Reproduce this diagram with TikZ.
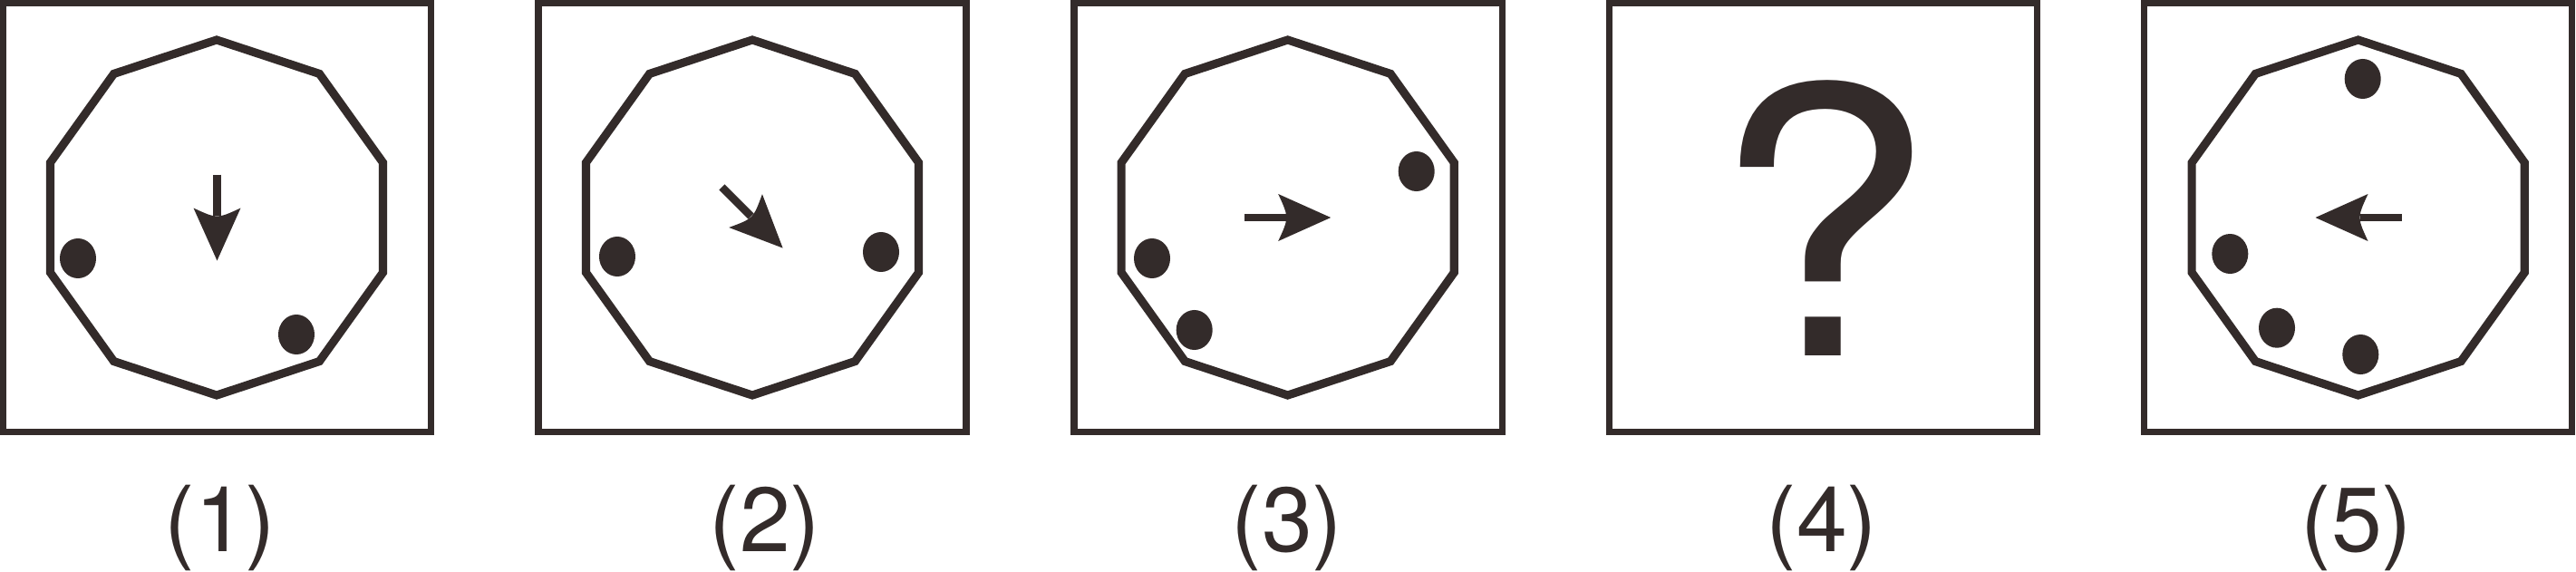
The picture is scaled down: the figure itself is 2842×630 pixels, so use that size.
\documentclass[tikz,border=0pt]{standalone}
\usepackage{fontspec}
\setmainfont{TeX Gyre Heros}
\usepackage{tikz}
\definecolor{PuzzleInk}{HTML}{332B2A}

\tikzset{
  panel/.style={draw=PuzzleInk,line width=2pt},
  ring/.style={draw=PuzzleInk,line width=2.6pt,line join=miter},
  blob/.style={fill=PuzzleInk},
  shaft/.style={draw=PuzzleInk,line width=2.5pt},
  tag/.style={text=PuzzleInk,inner sep=0pt,anchor=base,font=\fontsize{28.6pt}{30pt}\selectfont}
}

\begin{document}
\begin{tikzpicture}[x=0.01cm,y=-0.01cm]
  \useasboundingbox (0,0) rectangle (2842,630);
  % frames and captions
  \foreach \i/\cx/\lx in {1/239.5/243,2/830/844,3/1421/1420,4/2011/2010,5/2601.5/2600}{
    \draw[panel] (\cx-236,3.5) rectangle (\cx+236,476.5);
    \node[tag] (lab\i) at (\lx,608) {(\i)};
  }
  % decagons
  \foreach \cx in {239,830,1420.7,2601.7}
    \draw[ring] plot[samples=10,domain=90:414] ({\cx+193*cos(\x)},{240+196*sin(\x)}) -- cycle;
  % dots
  \foreach \dx/\dy in {86/285,327/369,681/283,972/278,1562.7/189,1271/285,1317.7/364,
                       2606.7/87,2460.3/280,2512/361.7,2604.3/391}
    \fill[blob] (\dx,\dy) ellipse [x radius=2mm,y radius=2.2mm];
  % arrows
  \foreach \cx/\ang in {239.5/-90,830/-45,1420.7/0,2602/180}{
    \begin{scope}[shift={(\cx,240)},rotate=\ang]
      \draw[shaft] (-47.5,0) -- (-2,0);
      \fill[PuzzleInk] (47.5,0) -- (-10.5,26) .. controls (1.5,0) .. (-10.5,-26) -- cycle;
    \end{scope}
  }
  \node[text=PuzzleInk,inner sep=0pt,anchor=base,xscale=1.07,font=\fontsize{116.6pt}{120pt}\selectfont] (qmark) at (2011,392) {?};
\end{tikzpicture}
\end{document}
